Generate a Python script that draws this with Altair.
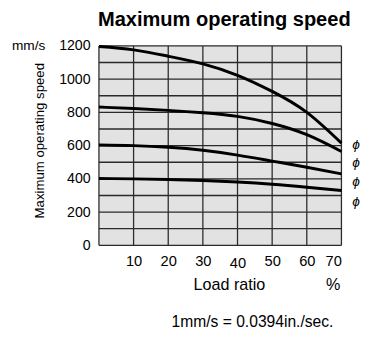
import altair as alt
import pandas as pd

FONT = "Liberation Sans"

# ---- data ----
load = [0, 10, 20, 30, 40, 50, 60, 70]
speed_1 = [1196, 1176, 1138, 1092, 1023, 926, 800, 615]
speed_2 = [832, 823, 812, 798, 776, 733, 666, 565]
speed_3 = [604, 600, 590, 572, 543, 507, 470, 430]
speed_4 = [402, 400, 396, 390, 381, 368, 350, 330]
series_names = ["s1", "s2", "s3", "s4"]

x_grid = [0, 10, 20, 30, 40, 50, 60, 70]
y_grid = [0, 100, 200, 300, 400, 500, 600, 700, 800, 900, 1000, 1100, 1200]
x_ticks = [10, 20, 30, 40, 50, 60, 70]
y_ticks = [0, 200, 400, 600, 800, 1000, 1200]

title_text = "Maximum operating speed"
y_title = "Maximum operating speed"
x_title = "Load ratio"
unit_y = "mm/s"
unit_x = "%"
footnote = "1mm/s = 0.0394in./sec."
phi_labels = ["ϕ", "ϕ", "ϕ", "ϕ"]

rows = []
for name, vals in zip(series_names, [speed_1, speed_2, speed_3, speed_4]):
    for l, v in zip(load, vals):
        rows.append({"series": name, "load": l, "speed": v})
df = pd.DataFrame(rows)

xscale = alt.Scale(domain=[0, 70], nice=False, zero=False)
yscale = alt.Scale(domain=[0, 1200], nice=False)

xaxis = alt.Axis(values=x_ticks, grid=False, ticks=False, domain=False, title=None,
                 labelFontSize=15, labelFont=FONT, labelColor="black", format="d",
                 labelPadding={"condition": {"test": "datum.value == 40", "value": 11}, "value": 9})
yaxis = alt.Axis(values=y_ticks, grid=False, ticks=False, domain=False, title=None, format="d",
                 labelFontSize=14.5, labelFont=FONT, labelColor="black", labelPadding=9)

vgrid = alt.Chart(pd.DataFrame({"gx": x_grid})).mark_rule(
    color="#2a2a2a", strokeWidth=1.3
).encode(x=alt.X("gx:Q", scale=xscale, axis=xaxis))

hgrid = alt.Chart(pd.DataFrame({"gy": y_grid})).mark_rule(
    color="#2a2a2a", strokeWidth=1.3
).encode(y=alt.Y("gy:Q", scale=yscale, axis=yaxis))

lines = alt.Chart(df).mark_line(
    color="black", strokeWidth=3, interpolate="natural"
).encode(
    x=alt.X("load:Q", scale=xscale, axis=xaxis),
    y=alt.Y("speed:Q", scale=yscale, axis=yaxis),
    detail="series:N",
)

def label(text, x, y, size, align="left", baseline="alphabetic", bold=False, angle=0, italic=False):
    kw = dict(align=align, baseline=baseline, fontSize=size, font=FONT, color="black",
              fontWeight="bold" if bold else "normal")
    if angle:
        kw["angle"] = angle
    if italic:
        kw["fontStyle"] = "italic"
    return alt.Chart(pd.DataFrame({"t": [text]})).mark_text(**kw).encode(
        x=alt.value(x), y=alt.value(y), text="t:N"
    )

texts = [
    label(title_text, -1, -20.5, 20.5, bold=True),
    label(unit_y, -89, 0, 14, baseline="middle"),
    label(y_title, -60, 97, 13.5, align="center", baseline="middle", angle=270),
    label(x_title, 133.5, 250, 16.5, align="center"),
    label(unit_x, 247, 250, 16.5, align="right"),
    label(footnote, 157, 287, 16, align="center"),
]
for lab, yy in zip(phi_labels, [101, 119.5, 139.5, 159.5]):
    texts.append(label(lab, 259, yy, 14, baseline="middle", italic=True))

chart = alt.layer(vgrid, hgrid, lines, *texts).properties(
    width=248, height=204,
    autosize=alt.AutoSizeParams(type="none"),
    padding={"left": 93, "top": 35, "right": 20, "bottom": 91},
    background="white",
).configure_view(fill="#e2e2e2", stroke=None)

chart.save("out.html", embed_options={"renderer": "svg", "actions": False})
